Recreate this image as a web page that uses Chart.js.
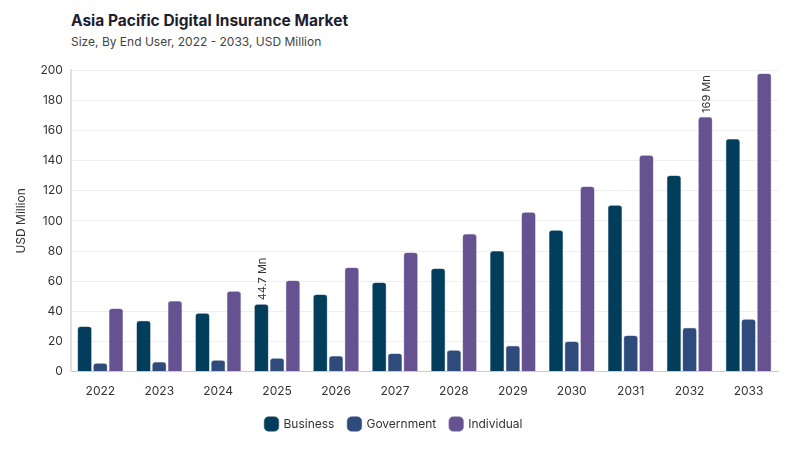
<!DOCTYPE html>
<html><head><meta charset="utf-8">
<script src="https://cdn.jsdelivr.net/npm/chart.js@4"></script>
<style>
html,body{margin:0;padding:0;background:#fff;}
#wrap{position:relative;width:800px;height:450px;}
h1{position:absolute;left:71px;top:11px;margin:0;font:700 15.5px Inter,sans-serif;color:#1e1e2e;}
h2{position:absolute;left:71px;top:34px;margin:0;font:400 12px Inter,sans-serif;color:#444;}
#c{position:absolute;left:0;top:55px;}
</style></head><body>
<div id="wrap">
<h1>Asia Pacific Digital Insurance Market</h1>
<h2>Size, By End User, 2022 - 2033, USD Million</h2>
<canvas id="c" width="800" height="395"></canvas>
</div>
<script>
const categories = ['2022','2023','2024','2025','2026','2027','2028','2029','2030','2031','2032','2033'];
const business = [30, 33.8, 38.7, 44.7, 51.1, 59.1, 68.4, 80, 93.8, 110.4, 130.2, 154.4];
const government = [5.5, 6.4, 7.6, 8.9, 10.4, 12, 14.2, 17.1, 20, 24, 29.1, 34.7];
const individual = [41.8, 46.9, 53.3, 60.4, 69.1, 79.1, 91.3, 105.8, 122.9, 143.6, 169, 197.8];
const annotations = [
  {series: 0, index: 3, text: '44.7 Mn'},
  {series: 2, index: 10, text: '169 Mn'}
];

const labelPlugin = {
  id: 'valueLabels',
  afterDatasetsDraw(chart) {
    const ctx = chart.ctx;
    annotations.forEach(a => {
      const bar = chart.getDatasetMeta(a.series).data[a.index];
      ctx.save();
      ctx.translate(bar.x + 1, bar.y - 4);
      ctx.rotate(-Math.PI / 2);
      ctx.font = '11px Inter, sans-serif';
      ctx.fillStyle = '#333';
      ctx.textAlign = 'left';
      ctx.textBaseline = 'middle';
      ctx.fillText(a.text, 0, 0);
      ctx.restore();
    });
  }
};

new Chart(document.getElementById('c'), {
  type: 'bar',
  data: {
    labels: categories,
    datasets: [
      {label: 'Business', data: business, backgroundColor: '#023e5b', borderColor: '#2a5a70', borderWidth: 0.5, borderRadius: 3, borderSkipped: 'bottom'},
      {label: 'Government', data: government, backgroundColor: '#2f4b7c', borderColor: '#4d6690', borderWidth: 0.5, borderRadius: 3, borderSkipped: 'bottom'},
      {label: 'Individual', data: individual, backgroundColor: '#665191', borderColor: '#8372a6', borderWidth: 0.5, borderRadius: 3, borderSkipped: 'bottom'}
    ]
  },
  options: {
    responsive: false,
    animation: false,
    layout: {padding: {left: 10, right: 22, top: 9, bottom: 10}},
    categoryPercentage: 0.8,
    barPercentage: 0.9,
    plugins: {
      legend: {
        position: 'bottom',
        labels: {usePointStyle: true, pointStyle: 'rectRounded', boxWidth: 13, boxHeight: 13, padding: 14, font: {family: 'Inter', size: 12}, color: '#333'}
      },
      tooltip: {enabled: false}
    },
    scales: {
      x: {
        grid: {display: false},
        border: {color: '#ccc'},
        ticks: {font: {family: 'Inter', size: 12}, color: '#333', padding: 5}
      },
      y: {
        min: 0, max: 200,
        ticks: {stepSize: 20, font: {family: 'Inter', size: 12}, color: '#333', padding: 8},
        grid: {color: '#f0f0f0', drawTicks: false},
        border: {color: '#e0e0e0', width: 2},
        title: {display: true, text: 'USD Million', font: {family: 'Inter', size: 12}, color: '#333'}
      }
    }
  },
  plugins: [labelPlugin]
});
</script>
</body></html>
